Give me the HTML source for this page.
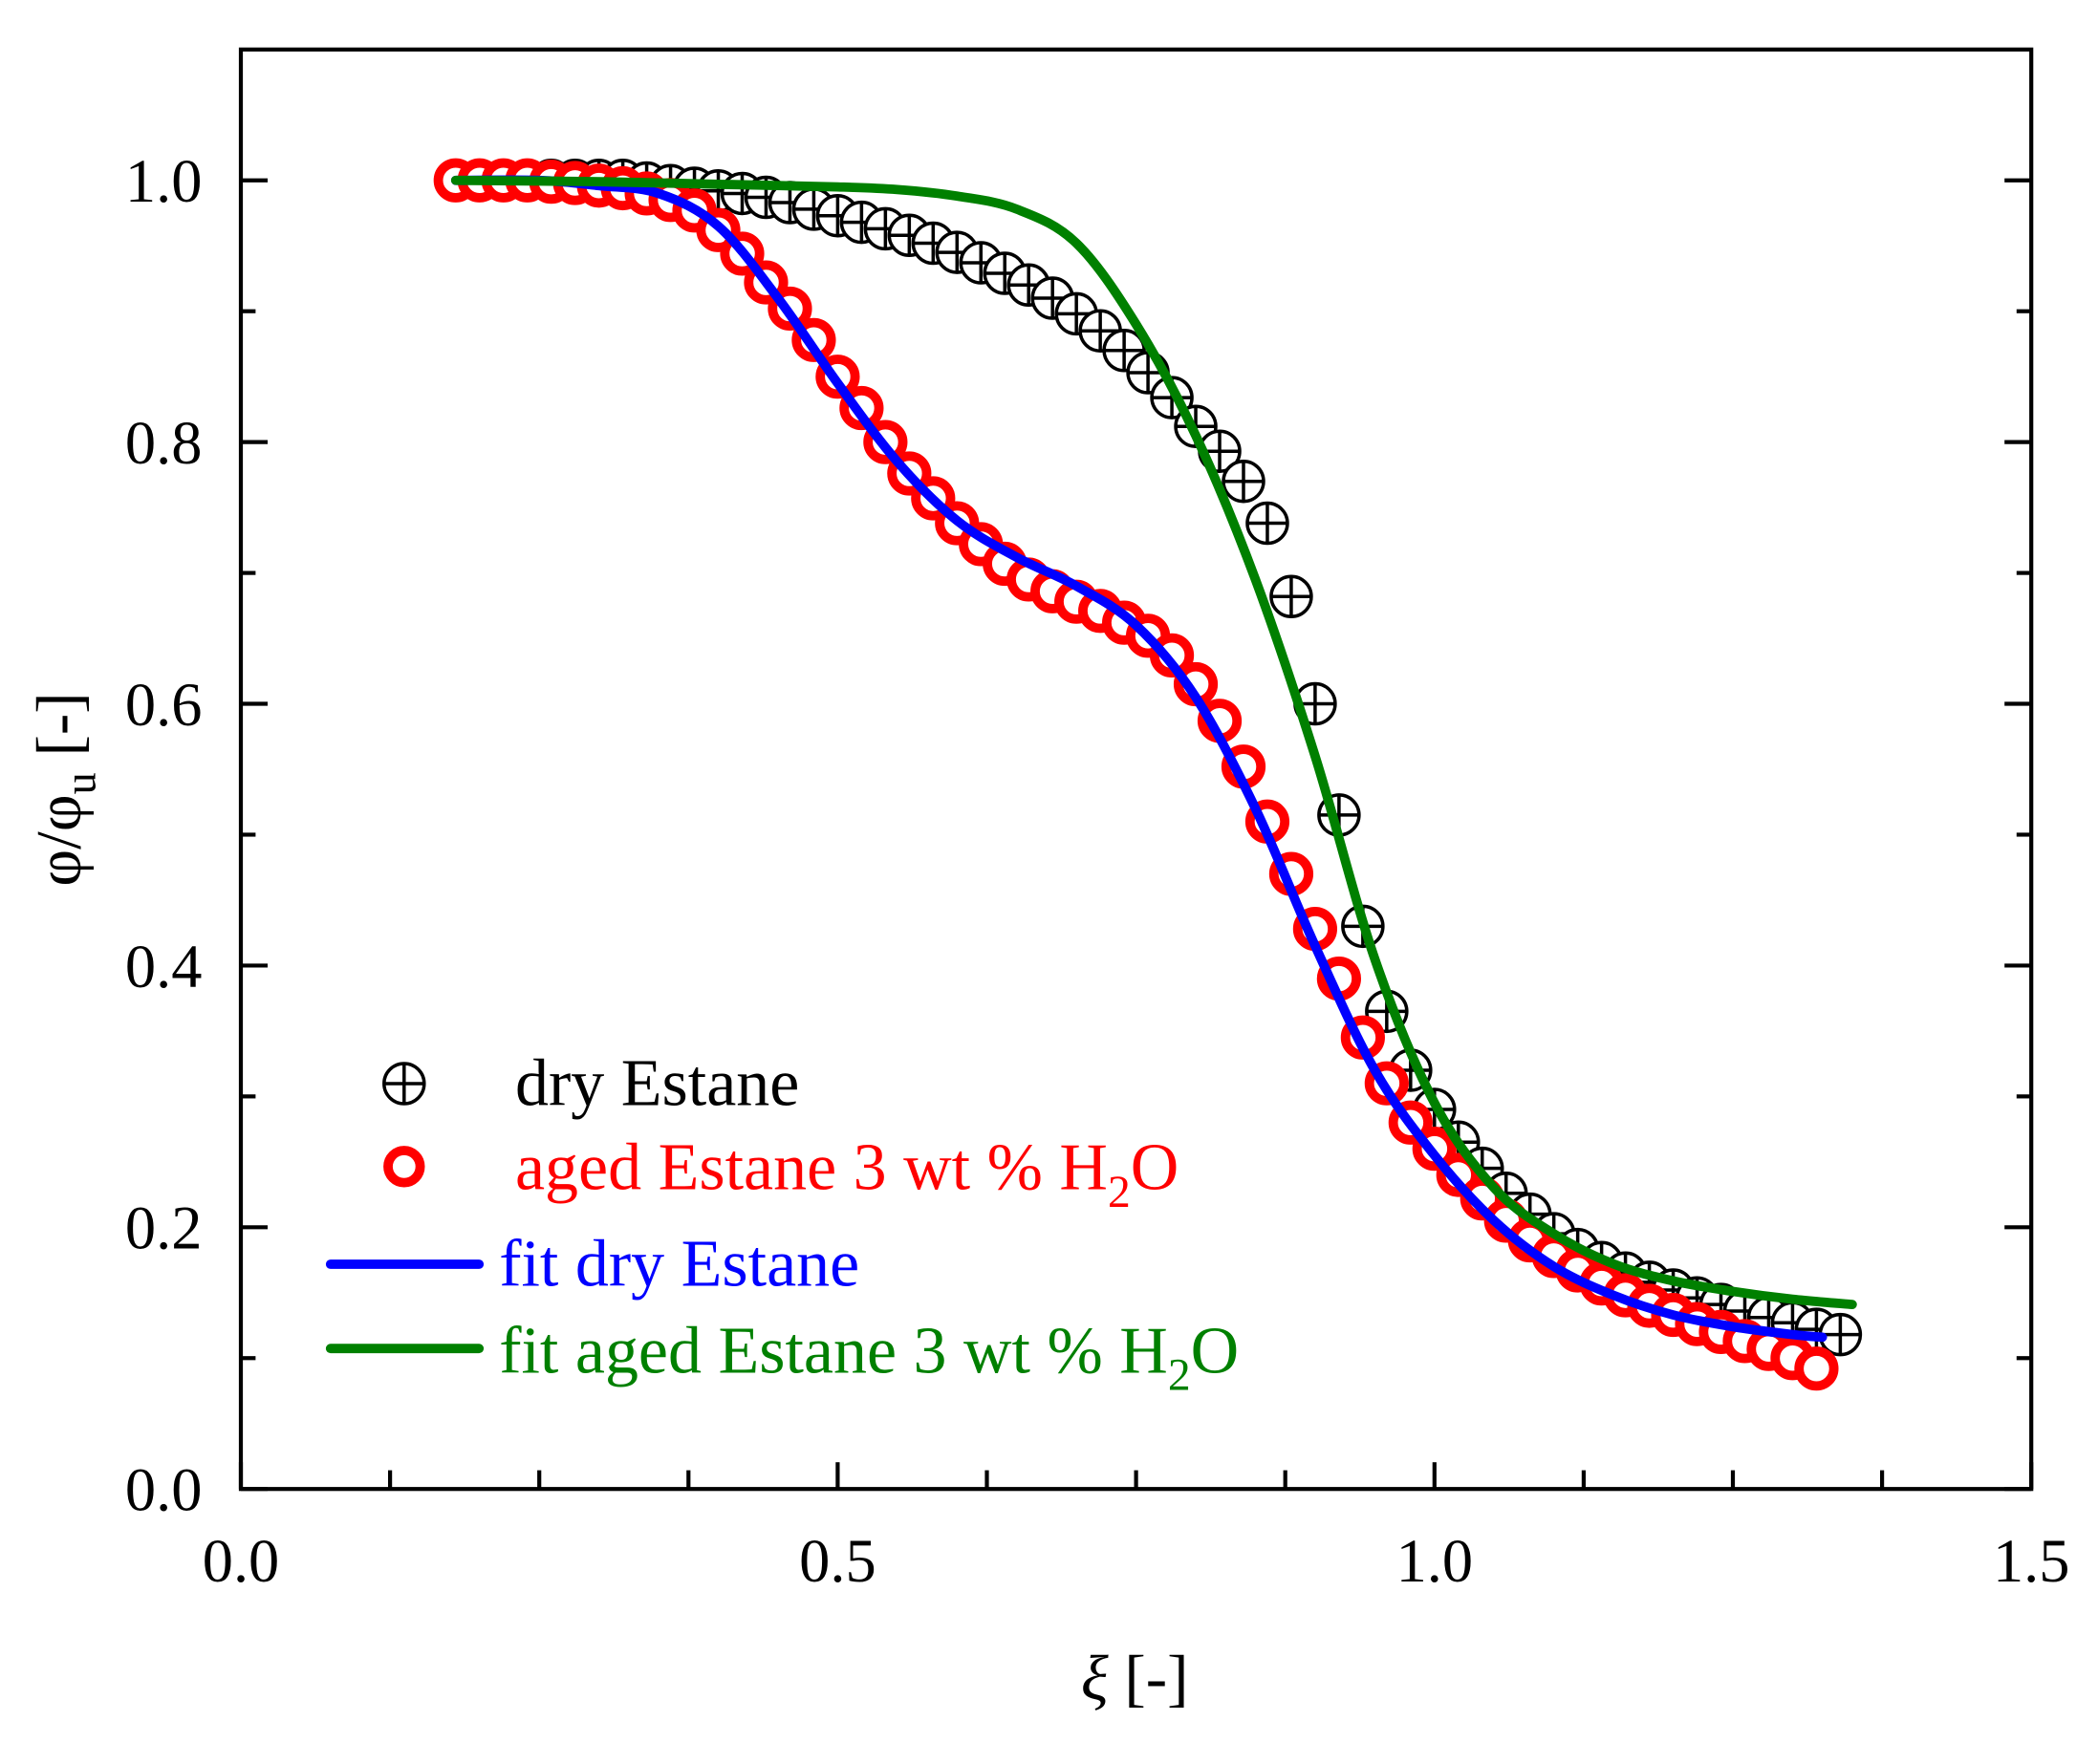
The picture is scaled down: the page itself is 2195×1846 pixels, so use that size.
<!DOCTYPE html>
<html><head><meta charset="utf-8"><style>
html,body{margin:0;padding:0;background:#fff}
svg{display:block}
text{font-family:"Liberation Serif",serif}
</style></head><body>
<svg id="chart" width="2195" height="1846" viewBox="0 0 1567.86 1318.57" xmlns="http://www.w3.org/2000/svg">
<rect width="1567.86" height="1318.57" fill="#fff"/>
<g id="axes"></g>
<g id="marks"></g>
<g id="legend">
  <g>
    <circle cx="302" cy="810" r="15" fill="#fff" stroke="#000" stroke-width="2.5"/>
    <line x1="287" y1="810" x2="317" y2="810" stroke="#000" stroke-width="2.5"/>
    <line x1="302" y1="795" x2="302" y2="825" stroke="#000" stroke-width="2.5"/>
    <text x="385" y="826" font-size="50" fill="#000">dry Estane</text>
  </g>
  <g>
    <circle cx="302" cy="872" r="12" fill="#fff" stroke="#f00" stroke-width="7"/>
    <text x="385" y="889" font-size="50" fill="#f00">aged Estane 3 wt % H<tspan font-size="34" dy="13">2</tspan><tspan dy="-13">O</tspan></text>
  </g>
  <g>
    <line x1="247" y1="945" x2="358" y2="945" stroke="#00f" stroke-width="7" stroke-linecap="round"/>
    <text x="373" y="961" font-size="50" fill="#00f">fit dry Estane</text>
  </g>
  <g>
    <line x1="247" y1="1008" x2="358" y2="1008" stroke="#008000" stroke-width="7" stroke-linecap="round"/>
    <text x="373" y="1026" font-size="50" fill="#008000">fit aged Estane 3 wt % H<tspan font-size="34" dy="13">2</tspan><tspan dy="-13">O</tspan></text>
  </g>
</g>
<text x="848" y="1270" font-size="48" text-anchor="middle"><tspan font-style="italic">ξ</tspan> [-]</text>
<text transform="translate(60,590) rotate(-90)" font-size="48" text-anchor="middle">φ/φ<tspan font-size="33" dy="11">u</tspan><tspan dy="-11"> [-]</tspan></text>
</svg>
<script>
const dryX = [0.18,0.20,0.22,0.24,0.26,0.28,0.30,0.32,0.34,0.36,0.38,0.40,0.42,0.44,0.46,0.48,0.50,0.52,0.54,0.56,0.58,0.60,0.62,0.64,0.66,0.68,0.70,0.72,0.74,0.76,0.78,0.80,0.82,0.84,0.86,0.88,0.90,0.92,0.94,0.96,0.98,1.00,1.02,1.04,1.06,1.08,1.10,1.12,1.14,1.16,1.18,1.20,1.22,1.24,1.26,1.28,1.30,1.32,1.34];
const dryY = [1.0,1.0,1.0,1.0,1.0,1.0,1.0,1.0,0.998,0.996,0.994,0.992,0.99,0.987,0.983,0.978,0.973,0.968,0.963,0.958,0.952,0.945,0.937,0.929,0.92,0.91,0.898,0.885,0.87,0.853,0.834,0.812,0.793,0.77,0.738,0.682,0.60,0.515,0.43,0.365,0.32,0.29,0.265,0.245,0.226,0.21,0.195,0.183,0.173,0.165,0.158,0.152,0.146,0.141,0.136,0.131,0.127,0.122,0.118];
const agedX = [0.18,0.20,0.22,0.24,0.26,0.28,0.30,0.32,0.34,0.36,0.38,0.40,0.42,0.44,0.46,0.48,0.50,0.52,0.54,0.56,0.58,0.60,0.62,0.64,0.66,0.68,0.70,0.72,0.74,0.76,0.78,0.80,0.82,0.84,0.86,0.88,0.90,0.92,0.94,0.96,0.98,1.00,1.02,1.04,1.06,1.08,1.10,1.12,1.14,1.16,1.18,1.20,1.22,1.24,1.26,1.28,1.30,1.32];
const agedY = [1.0,1.0,1.0,1.0,0.999,0.998,0.996,0.994,0.99,0.985,0.977,0.962,0.944,0.922,0.902,0.878,0.85,0.826,0.80,0.776,0.757,0.738,0.722,0.707,0.695,0.686,0.678,0.671,0.662,0.652,0.637,0.615,0.587,0.552,0.51,0.47,0.428,0.39,0.345,0.31,0.28,0.26,0.24,0.222,0.205,0.19,0.178,0.167,0.157,0.148,0.14,0.133,0.126,0.12,0.113,0.107,0.1,0.092];
const fitDryX = [0.18,0.25,0.30,0.35,0.40,0.45,0.50,0.55,0.60,0.65,0.70,0.75,0.80,0.85,0.90,0.95,1.00,1.05,1.10,1.15,1.20,1.25,1.30,1.325];
const fitDryY = [1.0,1.0,0.996,0.99,0.965,0.91,0.845,0.785,0.74,0.712,0.69,0.66,0.605,0.52,0.415,0.32,0.255,0.205,0.17,0.148,0.133,0.124,0.118,0.116];
const fitAgedX = [0.18,0.30,0.40,0.50,0.55,0.60,0.65,0.70,0.75,0.80,0.85,0.90,0.95,1.00,1.05,1.10,1.15,1.20,1.25,1.30,1.35];
const fitAgedY = [1.0,0.999,0.997,0.995,0.993,0.988,0.978,0.952,0.89,0.805,0.695,0.56,0.405,0.295,0.23,0.195,0.172,0.159,0.151,0.145,0.141];
const xTicks = ["0.0","0.5","1.0","1.5"];
const yTicks = ["0.0","0.2","0.4","0.6","0.8","1.0"];

const NS = "http://www.w3.org/2000/svg";
const L=180, R=1518, T=37, B=1113;
function sx(v){return L + v/1.5*(R-L);}
function sy(v){return B - v/1.1*(B-T);}
function mk(tag, attrs, parent){const e=document.createElementNS(NS,tag);for(const k in attrs)e.setAttribute(k,attrs[k]);parent.appendChild(e);return e;}
const axes=document.getElementById('axes'), marks=document.getElementById('marks');

for(let i=0;i<=10;i++){
  const y=sy(i/10), len=(i%2===0)?20:11;
  const t1=mk('line',{x1:L,y1:y,x2:L+len,y2:y,stroke:'#000','stroke-width':3},axes);
  
  
  const t2=mk('line',{x1:R,y1:y,x2:R-len,y2:y,stroke:'#000','stroke-width':3},axes);
  
  
}
yTicks.forEach(s=>{
  const t=mk('text',{x:151,y:sy(parseFloat(s))+16,'font-size':46,'text-anchor':'end'},axes);
  t.textContent=s;
  
  
});
for(let i=0;i<=12;i++){
  const x=sx(i*0.125), len=(i%4===0)?20:14;
  const t=mk('line',{x1:x,y1:B,x2:x,y2:B-len,stroke:'#000','stroke-width':3},axes);
  
  
}
xTicks.forEach(s=>{
  const t=mk('text',{x:sx(parseFloat(s)),y:1182,'font-size':46,'text-anchor':'middle'},axes);
  t.textContent=s;
  
  
});
const frame=mk('rect',{x:L,y:T,width:R-L,height:B-T,fill:'none',stroke:'#000','stroke-width':3},axes);



dryX.forEach((xv,i)=>{
  const cx=sx(xv), cy=sy(dryY[i]);
  const g=mk('g',{},marks);
  
  
  mk('circle',{cx:cx,cy:cy,r:15,fill:'#fff',stroke:'#000','stroke-width':2.5},g);
  mk('line',{x1:cx-15,y1:cy,x2:cx+15,y2:cy,stroke:'#000','stroke-width':2.5},g);
  mk('line',{x1:cx,y1:cy-15,x2:cx,y2:cy+15,stroke:'#000','stroke-width':2.5},g);
});
agedX.forEach((xv,i)=>{
  const c=mk('circle',{cx:sx(xv),cy:sy(agedY[i]),r:13,fill:'#fff',stroke:'#f00','stroke-width':7},marks);
  
  
});
function smoothPath(xs,ys){
  const p=xs.map((x,i)=>[sx(x),sy(ys[i])]);
  let d='M'+p[0][0]+','+p[0][1];
  for(let i=0;i<p.length-1;i++){
    const p0=p[Math.max(0,i-1)],p1=p[i],p2=p[i+1],p3=p[Math.min(p.length-1,i+2)];
    const c1=[p1[0]+(p2[0]-p0[0])/6,p1[1]+(p2[1]-p0[1])/6];
    const c2=[p2[0]-(p3[0]-p1[0])/6,p2[1]-(p3[1]-p1[1])/6];
    d+=' C'+c1[0]+','+c1[1]+' '+c2[0]+','+c2[1]+' '+p2[0]+','+p2[1];
  }
  return d;
}
const lb=mk('path',{d:smoothPath(fitDryX,fitDryY),fill:'none',stroke:'#00f','stroke-width':7,'stroke-linecap':'round'},marks);


const lg=mk('path',{d:smoothPath(fitAgedX,fitAgedY),fill:'none',stroke:'#008000','stroke-width':7,'stroke-linecap':'round'},marks);


</script>
</body></html>
